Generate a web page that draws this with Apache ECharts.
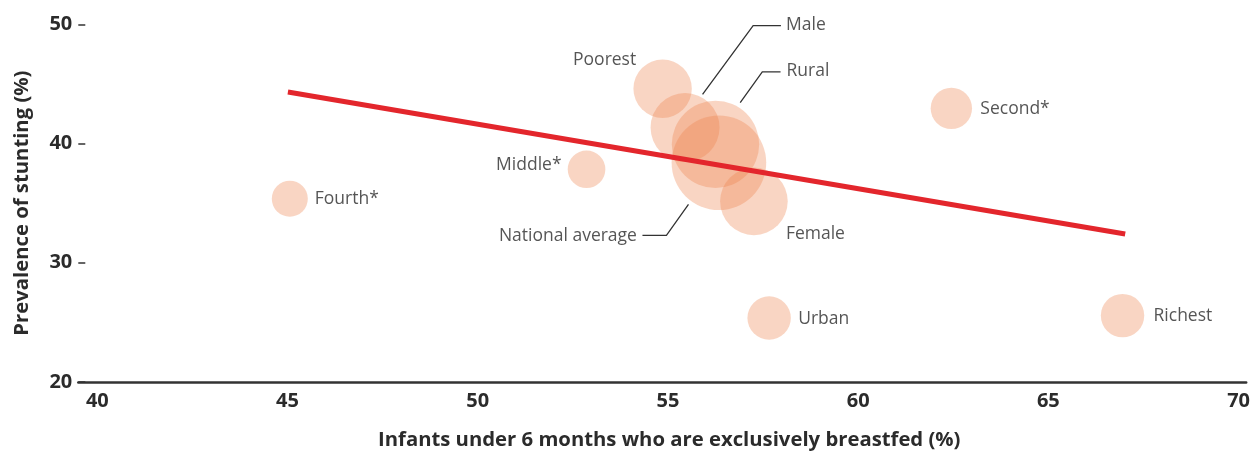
<!DOCTYPE html>
<html>
<head>
<meta charset="utf-8">
<script src="https://cdn.jsdelivr.net/npm/echarts@6/dist/echarts.min.js"></script>
<style>
html,body{margin:0;padding:0;background:#fff;}
#chart{width:1253px;height:455px;}
</style>
</head>
<body>
<div id="chart"></div>
<script>
// ---- data ----
const groups = ['Fourth*', 'Middle*', 'Poorest', 'Male', 'Rural', 'National average', 'Female', 'Urban', 'Second*', 'Richest'];
const breastfed = [45.06, 52.86, 54.86, 55.45, 56.25, 56.34, 57.26, 57.66, 62.45, 66.95];
const stunting = [35.37, 37.84, 44.6, 41.34, 39.93, 38.39, 35.15, 25.37, 42.95, 25.57];
const bubbleValue = [36, 37.6, 58.4, 69, 87.4, 94.6, 67.6, 43.4, 41.4, 43.4];
const trendX = [45.01, 67.02];
const trendY = [44.32, 32.42];
const xTicks = [40, 45, 50, 55, 60, 65, 70];
const yTicks = [20, 30, 40, 50];
const leaderMale = [[55.91, 44.13], [57.24, 49.89], [57.97, 49.89]];
const leaderRural = [[56.9, 43.44], [57.48, 46.01], [57.96, 46.01]];
const leaderNational = [[55.54, 34.89], [54.96, 32.29], [54.33, 32.29]];

// ---- label placement (style) ----
const labelPlace = {
  'Fourth*': {align: 'left', offset: [25, 0]},
  'Middle*': {align: 'right', offset: [-25, -4]},
  'Poorest': {align: 'center', offset: [-58, -29]},
  'Male': {align: 'left', offset: [101, -103]},
  'Rural': {align: 'left', offset: [71, -73]},
  'National average': {align: 'right', offset: [-82, 73]},
  'Female': {align: 'left', offset: [32, 33]},
  'Urban': {align: 'left', offset: [29, 1]},
  'Second*': {align: 'left', offset: [29, 1]},
  'Richest': {align: 'left', offset: [31, 0]}
};

const FONT = '"Open Sans"';
const TEXT = '#2b2b2b';

const bubbleData = groups.map((g, i) => ({
  name: g,
  value: [breastfed[i], stunting[i], bubbleValue[i]],
  label: {
    show: true,
    position: 'inside',
    align: labelPlace[g].align,
    verticalAlign: 'middle',
    offset: labelPlace[g].offset
  }
}));

const chart = echarts.init(document.getElementById('chart'), null, {renderer: 'canvas'});
chart.setOption({
  animation: false,
  backgroundColor: '#ffffff',
  grid: {left: 78.3, right: 5.7, top: 24.3, bottom: 70, containLabel: false},
  xAxis: {
    type: 'value',
    min: 39.5, max: 70.2, interval: 0.5,
    name: 'Infants under 6 months who are exclusively breastfed (%)',
    nameLocation: 'middle',
    nameGap: 48,
    nameTextStyle: {fontFamily: FONT, fontWeight: 'bold', fontSize: 20.3, color: TEXT, padding: [0, 0, 0, 14]},
    axisLine: {show: true, lineStyle: {color: '#333', width: 2.5}},
    axisTick: {show: false},
    splitLine: {show: false},
    axisLabel: {
      margin: 9,
      fontFamily: FONT, fontWeight: 'bold', fontSize: 20, color: TEXT,
      formatter: v => (xTicks.some(t => Math.abs(t - v) < 1e-6) ? String(Math.round(v)) : '')
    }
  },
  yAxis: {
    type: 'value',
    min: 20, max: 50, interval: 10,
    name: 'Prevalence of stunting (%)',
    nameLocation: 'middle',
    nameGap: 46.5,
    nameTextStyle: {fontFamily: FONT, fontWeight: 'bold', fontSize: 20.3, color: TEXT},
    axisLine: {show: false},
    axisTick: {show: true, inside: true, length: 7, lineStyle: {color: '#333', width: 1.5}},
    splitLine: {show: false},
    axisLabel: {
      margin: 6,
      fontFamily: FONT, fontWeight: 'bold', fontSize: 20, color: TEXT,
      formatter: v => (yTicks.includes(v) ? String(v) : '')
    }
  },
  series: [
    {
      type: 'scatter',
      name: 'groups',
      data: bubbleData,
      symbolSize: v => v[2],
      itemStyle: {color: 'rgba(238,131,76,0.42)'},
      label: {fontFamily: FONT, fontSize: 17.5, color: TEXT, formatter: p => p.name},
      emphasis: {disabled: true},
      z: 2
    },
    {
      type: 'lines',
      coordinateSystem: 'cartesian2d',
      polyline: true,
      silent: true,
      lineStyle: {color: '#333', width: 1.3, opacity: 1},
      data: [{coords: leaderMale}, {coords: leaderRural}, {coords: leaderNational}],
      z: 3
    },
    {
      type: 'line',
      name: 'trend',
      data: trendX.map((x, i) => [x, trendY[i]]),
      showSymbol: false,
      symbol: 'none',
      lineStyle: {color: '#e3262c', width: 5},
      emphasis: {disabled: true},
      silent: true,
      z: 4
    }
  ]
});
</script>
</body>
</html>
